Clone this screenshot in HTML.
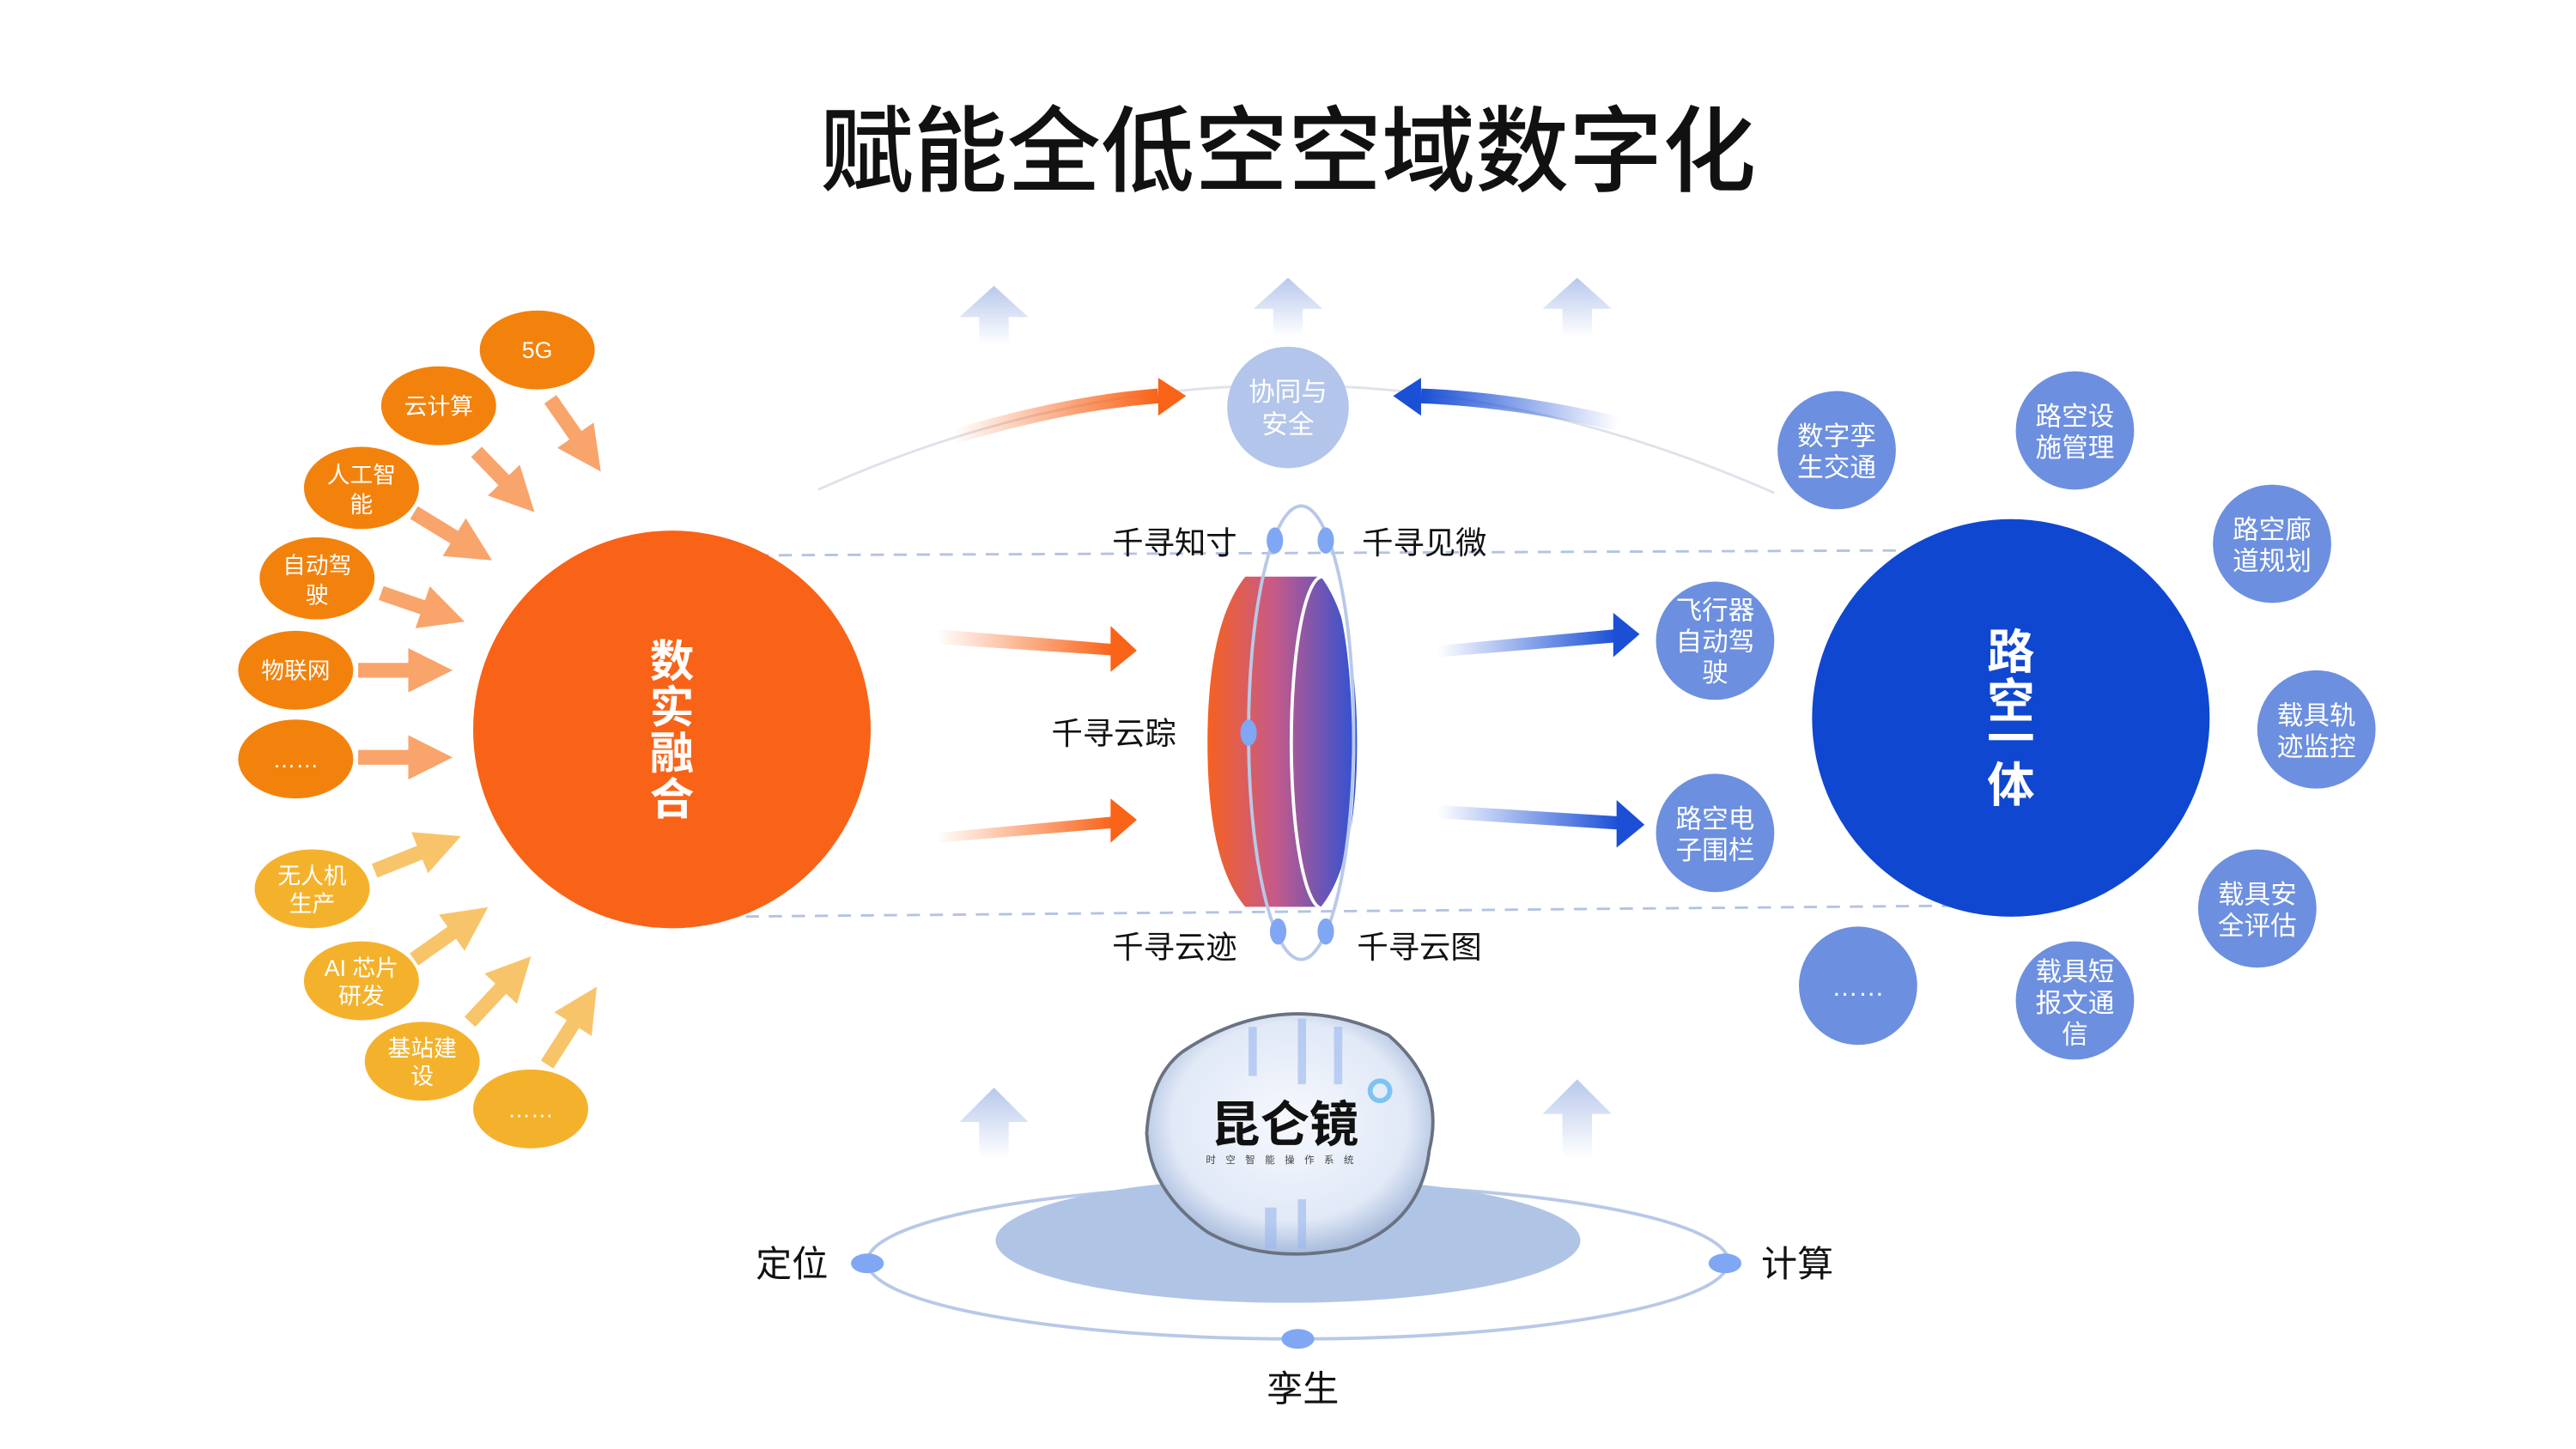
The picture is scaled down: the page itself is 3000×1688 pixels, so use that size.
<!DOCTYPE html>
<html><head><meta charset="utf-8"><style>
html,body{margin:0;padding:0;background:#fff;width:3000px;height:1688px;overflow:hidden}
svg{display:block}
text{font-family:"Liberation Sans","Noto Sans CJK SC",sans-serif}
</style></head><body>
<svg width="3000" height="1688" viewBox="0 0 1568 882" preserveAspectRatio="none" xmlns="http://www.w3.org/2000/svg">
<defs>
<linearGradient id="cyl" x1="0" x2="1"><stop offset="0" stop-color="#f6611f"/><stop offset="0.45" stop-color="#c65a8a"/><stop offset="1" stop-color="#2c52d4"/></linearGradient>
<linearGradient id="og" x1="0" x2="1"><stop offset="0" stop-color="#f96318" stop-opacity="0"/><stop offset="1" stop-color="#f96318"/></linearGradient>
<linearGradient id="bg" x1="0" x2="1"><stop offset="0" stop-color="#1a4fd6" stop-opacity="0"/><stop offset="1" stop-color="#1a4fd6"/></linearGradient>
<linearGradient id="bg2" x1="1" x2="0"><stop offset="0" stop-color="#1a4fd6" stop-opacity="0"/><stop offset="1" stop-color="#1a4fd6"/></linearGradient>
<linearGradient id="upg" x1="0" y1="1" x2="0" y2="0"><stop offset="0" stop-color="#b8c8ec" stop-opacity="0"/><stop offset="1" stop-color="#b8c8ec"/></linearGradient>
<radialGradient id="globe" cx="0.5" cy="0.45" r="0.55"><stop offset="0" stop-color="#f6f8fd"/><stop offset="0.75" stop-color="#e1e9f7"/><stop offset="1" stop-color="#a9bcdc"/></radialGradient>
<marker id="mo" viewBox="0 0 10 10" refX="5" refY="5" markerWidth="3" markerHeight="3" orient="auto"><path d="M0,0L10,5L0,10z" fill="#f9a46b"/></marker>
<marker id="my" viewBox="0 0 10 10" refX="5" refY="5" markerWidth="3" markerHeight="3" orient="auto"><path d="M0,0L10,5L0,10z" fill="#f8c46a"/></marker>
</defs>

<text x="784" y="112" font-size="57" text-anchor="middle" fill="#111" font-weight="500">赋能全低空空域数字化</text>

<g fill="url(#upg)">
<path d="M584,193L605,174L626,193L614,193L614,210L596,210L596,193z"/>
<path d="M763,188L784,169L805,188L793,188L793,205L775,205L775,188z"/>
<path d="M939,188L960,169L981,188L969,188L969,205L951,205L951,188z"/>
<path d="M584,683L605,662L626,683L614,683L614,705L596,705L596,683z"/>
<path d="M939,678L960,657L981,678L969,678L969,705L951,705L951,678z"/>
</g>

<path d="M498,298 Q784,170 1080,300" fill="none" stroke="#dfe2ea" stroke-width="1.5"/>
<path d="M580,266 Q650,245 705,241" fill="none" stroke="url(#og)" stroke-width="9"/>
<path d="M705,230L722,241L705,253z" fill="#f96318"/>
<path d="M985,258 Q920,243 865,241" fill="none" stroke="url(#bg2)" stroke-width="9"/>
<path d="M865,230L848,241L865,253z" fill="#1a4fd6"/>
<circle cx="784" cy="248" r="37" fill="#b3c5ea"/>
<text x="784" y="244" font-size="16" fill="#fff" text-anchor="middle">协同与</text>
<text x="784" y="264" font-size="16" fill="#fff" text-anchor="middle">安全</text>

<path d="M460,338 L1170,335" stroke="#b3c3e2" stroke-width="1.5" stroke-dasharray="8,6" fill="none"/>
<path d="M440,558 L1225,551" stroke="#b3c3e2" stroke-width="1.5" stroke-dasharray="8,6" fill="none"/>

<circle cx="409" cy="444" r="121" fill="#f96318"/>
<g font-size="27" font-weight="bold" fill="#fff" text-anchor="middle">
<text x="409" y="412">数</text><text x="409" y="440">实</text><text x="409" y="468">融</text><text x="409" y="496">合</text>
</g>
<circle cx="1224" cy="437" r="121" fill="#0f47d0"/>
<g font-size="29" font-weight="bold" fill="#fff" text-anchor="middle">
<text x="1224" y="407">路</text><text x="1224" y="437">空</text><text x="1224" y="460">一</text><text x="1224" y="488">体</text>
</g>

<g>
<path d="M570,383 L678,392 L678,399 L570,392z" fill="url(#og)"/><path d="M676,381L692,396L676,409z" fill="#f96318"/>
<path d="M570,507 L678,497 L678,504 L570,513z" fill="url(#og)"/><path d="M676,486L692,499L676,513z" fill="#f96318"/>
<path d="M875,393 L984,383 L984,391 L875,400z" fill="url(#bg)"/><path d="M982,373L998,386L982,400z" fill="#1a4fd6"/>
<path d="M875,490 L986,497 L986,505 L875,498z" fill="url(#bg)"/><path d="M984,487L1001,502L984,516z" fill="#1a4fd6"/>
</g>

<path d="M758,351 L804,351 Q826,380 826,452 Q826,525 804,552 L758,552 Q735,525 735,452 Q735,380 758,351z" fill="url(#cyl)"/>
<ellipse cx="805" cy="452" rx="19" ry="101" fill="none" stroke="#fff" stroke-width="2"/>
<ellipse cx="792" cy="446" rx="32" ry="138" fill="none" stroke="#b8c8e8" stroke-width="2"/>
<g fill="#7fa7f3">
<ellipse cx="776" cy="329" rx="5" ry="8"/><ellipse cx="807" cy="329" rx="5" ry="8"/>
<ellipse cx="760" cy="446" rx="5" ry="8"/><ellipse cx="778" cy="567" rx="5" ry="8"/><ellipse cx="807" cy="567" rx="5" ry="8"/>
</g>
<g font-size="19" fill="#111" text-anchor="middle">
<text x="715" y="337">千寻知寸</text><text x="867" y="337">千寻见微</text>
<text x="678" y="453">千寻云踪</text><text x="715" y="583">千寻云迹</text><text x="864" y="583">千寻云图</text>
</g>

<g stroke-width="9" fill="none">
<path d="M335,243 L358,276" stroke="#f9a46b" marker-end="url(#mo)"/>
<path d="M290,275 L316,302" stroke="#f9a46b" marker-end="url(#mo)"/>
<path d="M252,312 L288,334" stroke="#f9a46b" marker-end="url(#mo)"/>
<path d="M232,361 L270,374" stroke="#f9a46b" marker-end="url(#mo)"/>
<path d="M218,408 L262,408" stroke="#f9a46b" marker-end="url(#mo)"/>
<path d="M218,461 L262,461" stroke="#f9a46b" marker-end="url(#mo)"/>
<path d="M228,530 L268,514" stroke="#f8c46a" marker-end="url(#my)"/>
<path d="M252,584 L286,560" stroke="#f8c46a" marker-end="url(#my)"/>
<path d="M286,622 L314,592" stroke="#f8c46a" marker-end="url(#my)"/>
<path d="M333,648 L356,612" stroke="#f8c46a" marker-end="url(#my)"/>
</g>
<g fill="#f3820c">
<ellipse cx="327" cy="213" rx="35" ry="24"/><ellipse cx="267" cy="247" rx="35" ry="24"/>
<ellipse cx="220" cy="297" rx="35" ry="25"/><ellipse cx="193" cy="352" rx="35" ry="25"/>
<ellipse cx="180" cy="408" rx="35" ry="24"/><ellipse cx="180" cy="462" rx="35" ry="24"/>
</g>
<g fill="#f4b22c">
<ellipse cx="190" cy="541" rx="35" ry="24"/><ellipse cx="220" cy="597" rx="35" ry="24"/>
<ellipse cx="257" cy="646" rx="35" ry="24"/><ellipse cx="323" cy="675" rx="35" ry="24"/>
</g>
<g font-size="14" fill="#fff" text-anchor="middle">
<text x="327" y="218">5G</text><text x="267" y="252">云计算</text>
<text x="220" y="294">人工智</text><text x="220" y="312">能</text>
<text x="193" y="349">自动驾</text><text x="193" y="367">驶</text>
<text x="180" y="413">物联网</text><text x="180" y="467">……</text>
<text x="190" y="538">无人机</text><text x="190" y="555">生产</text>
<text x="220" y="594">AI 芯片</text><text x="220" y="611">研发</text>
<text x="257" y="643">基站建</text><text x="257" y="660">设</text>
<text x="323" y="680">……</text>
</g>

<g fill="#6c8fe0">
<circle cx="1118" cy="274" r="36"/><circle cx="1263" cy="262" r="36"/><circle cx="1383" cy="331" r="36"/>
<circle cx="1410" cy="444" r="36"/><circle cx="1374" cy="553" r="36"/><circle cx="1263" cy="609" r="36"/>
<circle cx="1131" cy="600" r="36"/><circle cx="1044" cy="390" r="36"/><circle cx="1044" cy="507" r="36"/>
</g>
<g font-size="16" fill="#fff" text-anchor="middle">
<text x="1118" y="271">数字孪</text><text x="1118" y="290">生交通</text>
<text x="1263" y="259">路空设</text><text x="1263" y="278">施管理</text>
<text x="1383" y="328">路空廊</text><text x="1383" y="347">道规划</text>
<text x="1410" y="441">载具轨</text><text x="1410" y="460">迹监控</text>
<text x="1374" y="550">载具安</text><text x="1374" y="569">全评估</text>
<text x="1263" y="597">载具短</text><text x="1263" y="616">报文通</text><text x="1263" y="635">信</text>
<text x="1131" y="606">……</text>
<text x="1044" y="377">飞行器</text><text x="1044" y="396">自动驾</text><text x="1044" y="415">驶</text>
<text x="1044" y="504">路空电</text><text x="1044" y="523">子围栏</text>
</g>

<ellipse cx="790" cy="768" rx="262" ry="47" fill="none" stroke="#b8c8e8" stroke-width="2"/>
<ellipse cx="784" cy="755" rx="178" ry="38" fill="#b0c4e6"/>
<path d="M720,640 Q780,600 845,630 Q880,660 870,700 Q865,745 820,760 Q770,770 735,750 Q700,725 698,690 Q700,655 720,640z" fill="url(#globe)" stroke="#6a7282" stroke-width="2"/>
<g fill="#9ab8ee" opacity="0.6">
<rect x="760" y="625" width="5" height="30"/><rect x="790" y="620" width="5" height="40"/><rect x="812" y="625" width="5" height="35"/>
<rect x="770" y="735" width="7" height="25"/><rect x="790" y="730" width="5" height="30"/>
</g>
<circle cx="840" cy="664" r="6" fill="none" stroke="#7cc3f2" stroke-width="3"/>
<text x="782" y="695" font-size="30" font-weight="bold" fill="#111" text-anchor="middle" font-family="'Noto Serif CJK SC',serif">昆仑镜</text>
<text x="782" y="708" font-size="6" fill="#444" text-anchor="middle" letter-spacing="6">时空智能操作系统</text>
<g fill="#7fa7f3">
<ellipse cx="528" cy="769" rx="10" ry="6"/><ellipse cx="1050" cy="769" rx="10" ry="6"/><ellipse cx="790" cy="815" rx="10" ry="6"/>
</g>
<g font-size="22" fill="#111" text-anchor="middle">
<text x="482" y="777">定位</text><text x="1094" y="777">计算</text><text x="793" y="853">孪生</text>
</g>
</svg>
</body></html>
